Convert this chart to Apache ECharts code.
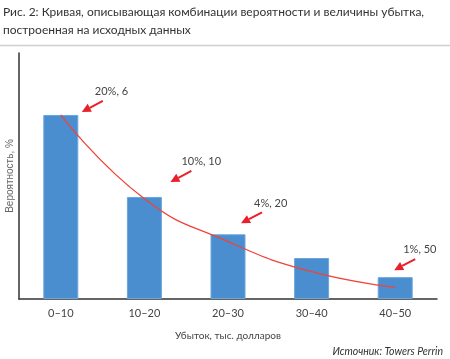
<!DOCTYPE html>
<html><head><meta charset="utf-8">
<script src="https://cdn.jsdelivr.net/npm/echarts@6/dist/echarts.min.js"></script>
<style>html,body{margin:0;padding:0;background:#fff}#c{width:450px;height:359px}</style>
</head><body><div id="c"></div>
<script>
const titleLines = ['Рис. 2: Кривая, описывающая комбинации вероятности и величины убытка,', 'построенная на исходных данных'];
const categories = ['0–10', '10–20', '20–30', '30–40', '40–50'];
const barValues = [20.2, 11.2, 7.1, 4.5, 2.4];
const curveValues = [20.2, 11.0, 6.3, 3.0, 1.3];
const annotationTexts = ['20%, 6', '10%, 10', '4%, 20', '1%, 50'];
const annotationCategory = [0, 1, 2, 4];
const yMax = 27;
const xAxisName = 'Убыток, тыс. долларов';
const yAxisName = 'Вероятность, %';
const sourceText = 'Источник: Towers Perrin';

const chart = echarts.init(document.getElementById('c'), null, {renderer: 'canvas'});
const font = 'Lato, "Noto Sans", sans-serif';
chart.setOption({
  animation: false,
  backgroundColor: '#fff',
  title: {
    text: titleLines.join('\n'), left: 3, top: 3, padding: 0,
    textStyle: {fontFamily: font, fontSize: 12, fontWeight: 'normal', color: '#333', lineHeight: 18}
  },
  grid: {left: 19, right: 13, top: 53, bottom: 60, outerBoundsMode: 'none', containLabel: false},
  xAxis: {
    type: 'category', data: categories,
    axisLine: {lineStyle: {color: '#333', width: 1.5}},
    axisTick: {show: false},
    axisLabel: {fontFamily: font, fontSize: 11, color: '#444', margin: 9},
    name: xAxisName, nameLocation: 'middle', nameGap: 32,
    nameTextStyle: {fontFamily: font, fontSize: 10, color: '#444'}
  },
  yAxis: {
    type: 'value', min: 0, max: yMax,
    axisLine: {show: true, lineStyle: {color: '#333', width: 1.5}},
    axisTick: {show: false}, axisLabel: {show: false}, splitLine: {show: false},
    name: yAxisName, nameLocation: 'middle', nameGap: 4, nameRotate: 90,
    nameTextStyle: {fontFamily: '"Liberation Sans", Arial, sans-serif', fontSize: 10, color: '#666'}
  },
  series: [
    {type: 'bar', data: barValues, barWidth: 35,
     itemStyle: {color: '#4a8ecf', borderColor: '#6aa6dc', borderWidth: 1}},
    {type: 'line', data: curveValues, smooth: 0.5, symbol: 'none',
     lineStyle: {color: '#f0433a', width: 1.3}, z: 5}
  ]
});

// annotation offsets (pixels) relative to category center / bar top
const tipOffsets = [[21, -3], [26, -15], [13, -11], [-1, -7]];
const tailVec = [21, -11];
const textOffsets = [[-8, -15], [-10, -15], [-8, -14], [-12, -15]];
const g = [
  {type: 'line', shape: {x1: 0, y1: 45.5, x2: 450, y2: 45.5}, style: {stroke: '#d0d0d0', lineWidth: 1.5}},
  {type: 'text', right: 7, top: 346, style: {text: sourceText, font: 'italic 10.5px ' + font, fill: '#333'}}
];
annotationTexts.forEach((t, i) => {
  const c = annotationCategory[i];
  const p = chart.convertToPixel({seriesIndex: 0}, [c, barValues[c]]);
  const tip = [p[0] + tipOffsets[i][0], p[1] + tipOffsets[i][1]];
  const tail = [tip[0] + tailVec[0], tip[1] + tailVec[1]];
  const dx = tail[0] - tip[0], dy = tail[1] - tip[1];
  const L = Math.hypot(dx, dy), ux = dx / L, uy = dy / L;
  const hl = 9, hw = 4.5;
  const base = [tip[0] + ux * hl, tip[1] + uy * hl];
  g.push({type: 'line', shape: {x1: base[0], y1: base[1], x2: tail[0], y2: tail[1]}, style: {stroke: '#e8202a', lineWidth: 2}, z: 10});
  g.push({type: 'polygon', shape: {points: [tip, [base[0] - uy * hw, base[1] + ux * hw], [base[0] + uy * hw, base[1] - ux * hw]]}, style: {fill: '#e8202a'}, z: 10});
  g.push({type: 'text', x: tail[0] + textOffsets[i][0], y: tail[1] + textOffsets[i][1],
    style: {text: t, font: '11px ' + font, fill: '#444', textVerticalAlign: 'top'}, z: 10});
});
chart.setOption({graphic: g});
</script></body></html>
